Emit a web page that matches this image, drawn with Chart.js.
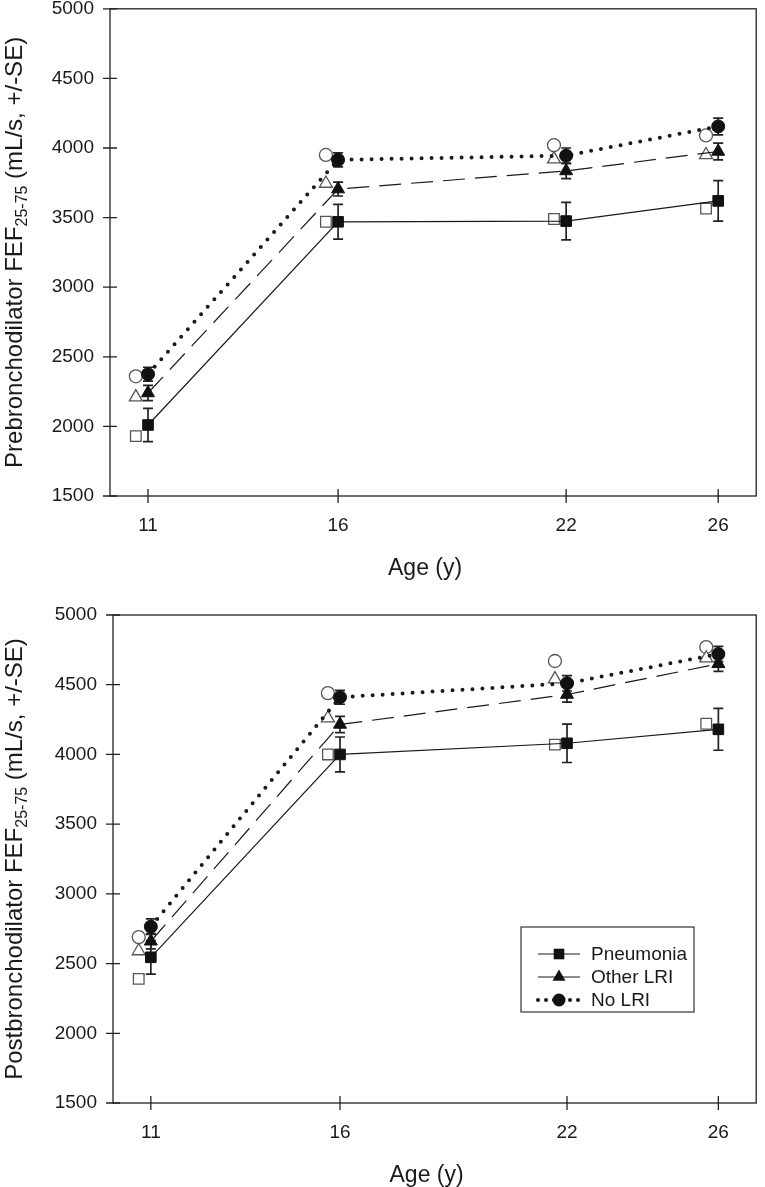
<!DOCTYPE html>
<html>
<head>
<meta charset="utf-8">
<script src="https://cdn.jsdelivr.net/npm/chart.js"></script>
<style>
  html, body { margin: 0; padding: 0; background: #fff; }
  canvas { display: block; }
</style>
</head>
<body>
<canvas id="preChart" width="765" height="590"></canvas>
<canvas id="postChart" width="765" height="597"></canvas>
<script>
// ages (x) and tick labels
const ages = [11, 16, 22, 26];
const ageTicks = [11, 16, 22, 26];
const seriesNames = ['Pneumonia', 'Other LRI', 'No LRI'];

// prebronchodilator FEF25-75: filled markers (with SE) and open markers
const prePneumonia = [2010, 3470, 3475, 3620];
const prePneumoniaSE = [120, 125, 135, 145];
const prePneumoniaOpen = [1930, 3470, 3490, 3565];
const preOtherLRI = [2240, 3705, 3835, 3975];
const preOtherLRISE = [55, 50, 55, 60];
const preOtherLRIOpen = [2210, 3745, 3920, 3950];
const preNoLRI = [2375, 3915, 3945, 4155];
const preNoLRISE = [50, 50, 55, 60];
const preNoLRIOpen = [2360, 3950, 4020, 4090];

// postbronchodilator FEF25-75
const postPneumonia = [2545, 4000, 4080, 4180];
const postPneumoniaSE = [120, 125, 138, 150];
const postPneumoniaOpen = [2390, 4000, 4070, 4220];
const postOtherLRI = [2660, 4215, 4430, 4650];
const postOtherLRISE = [55, 58, 55, 55];
const postOtherLRIOpen = [2590, 4260, 4540, 4690];
const postNoLRI = [2765, 4410, 4510, 4720];
const postNoLRISE = [55, 50, 55, 55];
const postNoLRIOpen = [2690, 4440, 4670, 4770];

const FONT = '"Liberation Sans", Arial, sans-serif';
const INK = '#1a1a1a';
const openShift = 0.32; // open markers sit a little left of the age

// line / marker look of each group
const styles = [
  { point: 'rect', radius: 7.5, width: 1.2, dash: [], cap: 'butt' },
  { point: 'triangle', radius: 7.5, width: 1.2, dash: [22, 10], cap: 'butt' },
  { point: 'circle', radius: 6.5, width: 4, dash: [0, 10], cap: 'round' }
];

function filledSet(i, values, se) {
  const s = styles[i];
  return {
    label: seriesNames[i],
    data: ages.map((a, k) => ({ x: a, y: values[k] })),
    se: se,
    styleIdx: i,
    showLine: true,
    borderColor: INK,
    borderWidth: s.width,
    borderDash: s.dash,
    borderCapStyle: s.cap,
    pointStyle: s.point,
    pointRadius: s.radius,
    pointHoverRadius: s.radius,
    pointBackgroundColor: '#111',
    pointBorderColor: '#111',
    pointBorderWidth: 1,
    order: 0
  };
}

function openSet(i, values) {
  const s = styles[i];
  return {
    label: seriesNames[i] + ' (open)',
    data: ages.map((a, k) => ({ x: a - openShift, y: values[k] })),
    showLine: false,
    pointStyle: s.point,
    pointRadius: s.radius,
    pointHoverRadius: s.radius,
    pointBackgroundColor: '#fff',
    pointBorderColor: '#555',
    pointBorderWidth: 1.3,
    order: 1
  };
}

// vertical SE bars with caps
const errorBars = {
  id: 'errorBars',
  beforeDatasetsDraw(chart) {
    const { ctx, scales: { x, y } } = chart;
    ctx.save();
    ctx.strokeStyle = '#222';
    ctx.lineWidth = 1.7;
    chart.data.datasets.forEach(ds => {
      if (!ds.se) return;
      ds.data.forEach((p, k) => {
        const px = x.getPixelForValue(p.x);
        const t = y.getPixelForValue(p.y + ds.se[k]);
        const b = y.getPixelForValue(p.y - ds.se[k]);
        ctx.beginPath();
        ctx.moveTo(px, t); ctx.lineTo(px, b);
        ctx.moveTo(px - 5, t); ctx.lineTo(px + 5, t);
        ctx.moveTo(px - 5, b); ctx.lineTo(px + 5, b);
        ctx.stroke();
      });
    });
    ctx.restore();
  }
};

// box round the plot, ticks crossing the axes, axis titles
const frame = {
  id: 'frame',
  afterDraw(chart, args, opts) {
    const { ctx, chartArea: a, scales: { x, y } } = chart;
    ctx.save();
    ctx.strokeStyle = '#222';
    ctx.lineWidth = 1.3;
    ctx.strokeRect(a.left, a.top, a.right - a.left, a.bottom - a.top);
    ctx.beginPath();
    y.ticks.forEach(t => {
      const py = y.getPixelForValue(t.value);
      ctx.moveTo(a.left - 7, py); ctx.lineTo(a.left + 7, py);
    });
    x.ticks.forEach(t => {
      const px = x.getPixelForValue(t.value);
      ctx.moveTo(px, a.bottom - 7); ctx.lineTo(px, a.bottom + 7);
    });
    ctx.stroke();

    ctx.fillStyle = INK;
    ctx.font = '23px ' + FONT;
    ctx.textAlign = 'center';
    ctx.textBaseline = 'alphabetic';
    ctx.fillText('Age (y)', (a.left + a.right) / 2 - 8, a.bottom + 79);

    // y title with subscript
    const parts = opts.yTitle;
    ctx.translate(22, (a.top + a.bottom) / 2);
    ctx.rotate(-Math.PI / 2);
    ctx.textAlign = 'left';
    let total = 0;
    parts.forEach(p => {
      ctx.font = (p.sub ? '16px ' : '24px ') + FONT;
      total += ctx.measureText(p.text).width;
    });
    let cx = -total / 2;
    parts.forEach(p => {
      ctx.font = (p.sub ? '16px ' : '24px ') + FONT;
      ctx.fillText(p.text, cx, p.sub ? 5 : 0);
      cx += ctx.measureText(p.text).width;
    });
    ctx.restore();
  }
};

function drawMarker(ctx, style, x, y, r) {
  ctx.beginPath();
  if (style === 'rect') {
    const s = r * Math.SQRT1_2;
    ctx.rect(x - s, y - s, 2 * s, 2 * s);
  } else if (style === 'triangle') {
    for (let k = 0; k < 3; k++) {
      const ang = k * 2 * Math.PI / 3;
      const px = x + Math.sin(ang) * r, py = y - Math.cos(ang) * r;
      if (k === 0) ctx.moveTo(px, py); else ctx.lineTo(px, py);
    }
    ctx.closePath();
  } else {
    ctx.arc(x, y, r, 0, Math.PI * 2);
  }
  ctx.fill();
}

// boxed legend inside the lower chart
const legendBox = {
  id: 'legendBox',
  afterDraw(chart) {
    const { ctx, chartArea: a } = chart;
    const left = a.left + 408, top = a.top + 312;
    ctx.save();
    ctx.strokeStyle = '#333';
    ctx.lineWidth = 1.2;
    ctx.strokeRect(left, top, 173, 85);
    chart.data.datasets.filter(d => d.se).forEach((ds, i) => {
      const s = styles[ds.styleIdx];
      const yy = top + 27 + i * 23;
      ctx.strokeStyle = INK;
      ctx.lineWidth = s.width;
      ctx.lineCap = s.cap;
      ctx.setLineDash(s.point === 'circle' ? [0, 8] : []);
      ctx.beginPath();
      ctx.moveTo(left + 17, yy); ctx.lineTo(left + 59, yy);
      ctx.stroke();
      ctx.setLineDash([]);
      ctx.fillStyle = '#111';
      drawMarker(ctx, s.point, left + 38, yy, s.radius);
      ctx.fillStyle = INK;
      ctx.font = '19px ' + FONT;
      ctx.textBaseline = 'middle';
      ctx.textAlign = 'left';
      ctx.fillText(ds.label, left + 70, yy + 1);
    });
    ctx.restore();
  }
};

function makeChart(id, sets, yTitle, pad, yWidth, xHeight, extra) {
  return new Chart(document.getElementById(id), {
    type: 'scatter',
    data: { datasets: sets },
    options: {
      responsive: false,
      animation: false,
      layout: { padding: pad },
      plugins: {
        legend: { display: false },
        tooltip: { enabled: false },
        frame: { yTitle: yTitle }
      },
      scales: {
        x: {
          type: 'linear',
          min: 10, max: 27,
          afterBuildTicks: s => { s.ticks = ageTicks.map(v => ({ value: v })); },
          afterFit: s => { s.height = xHeight; s.paddingLeft = 0; s.paddingRight = 0; },
          grid: { display: false, drawTicks: false },
          border: { display: false },
          ticks: { font: { family: FONT, size: 19 }, color: INK, padding: 18, maxRotation: 0,
                   callback: v => String(v) }
        },
        y: {
          min: 1500, max: 5000,
          afterFit: s => { s.width = yWidth; s.paddingTop = 0; s.paddingBottom = 0; },
          grid: { display: false, drawTicks: false },
          border: { display: false },
          ticks: { stepSize: 500, font: { family: FONT, size: 19 }, color: INK, padding: 16,
                   callback: v => String(v) }
        }
      }
    },
    plugins: [errorBars, frame].concat(extra)
  });
}

makeChart('preChart', [
  filledSet(0, prePneumonia, prePneumoniaSE),
  filledSet(1, preOtherLRI, preOtherLRISE),
  filledSet(2, preNoLRI, preNoLRISE),
  openSet(0, prePneumoniaOpen),
  openSet(1, preOtherLRIOpen),
  openSet(2, preNoLRIOpen)
], [
  { text: 'Prebronchodilator FEF' },
  { text: '25-75', sub: true },
  { text: ' (mL/s, +/-SE)' }
], { top: 8, right: 5, left: 0, bottom: 0 }, 110, 94, []);

makeChart('postChart', [
  filledSet(0, postPneumonia, postPneumoniaSE),
  filledSet(1, postOtherLRI, postOtherLRISE),
  filledSet(2, postNoLRI, postNoLRISE),
  openSet(0, postPneumoniaOpen),
  openSet(1, postOtherLRIOpen),
  openSet(2, postNoLRIOpen)
], [
  { text: 'Postbronchodilator FEF' },
  { text: '25-75', sub: true },
  { text: ' (mL/s, +/-SE)' }
], { top: 25, right: 2, left: 0, bottom: 0 }, 113, 84, [legendBox]);
</script>
</body>
</html>
